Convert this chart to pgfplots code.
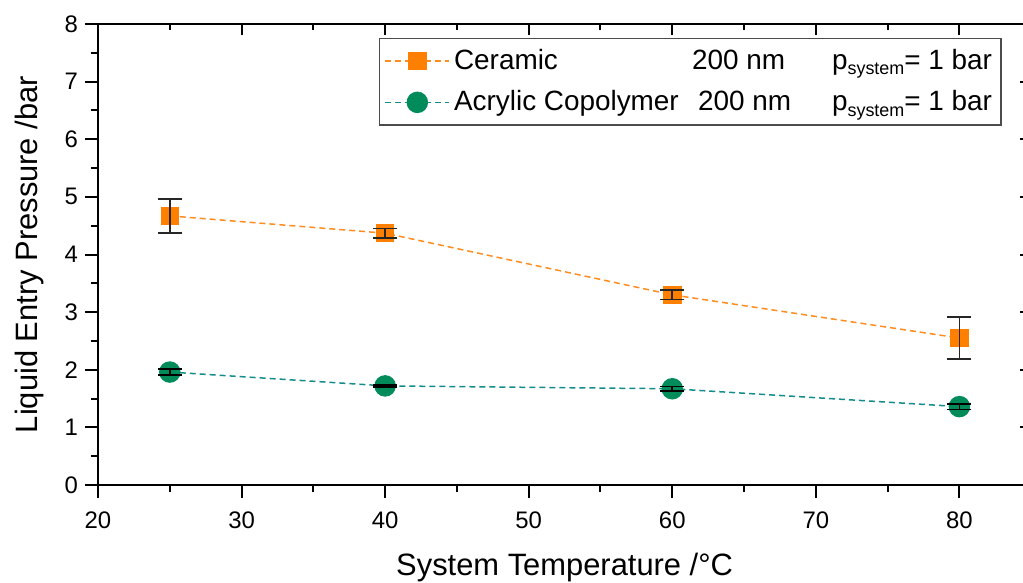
\documentclass[border=0pt]{standalone}
\usepackage{pgfplots}
\pgfplotsset{compat=1.18}
\usepackage{fontspec}
\setmainfont{Liberation Sans}
\definecolor{ceram}{RGB}{255,127,0}
\definecolor{acryl}{RGB}{0,140,90}
\definecolor{acrylline}{RGB}{20,140,140}
\definecolor{ceramline}{RGB}{255,140,30}

\pgfplotstableread{
x y e
25 4.67 0.29
40 4.37 0.08
60 3.30 0.08
80 2.55 0.37
}\ceramic
\pgfplotstableread{
x y e
25 1.96 0.05
40 1.72 0.02
60 1.67 0.04
80 1.36 0.05
}\acrylic

\newcommand{\psys}{p\raisebox{-0.35ex}{\fontsize{9}{10}\selectfont system}= 1 bar}

\begin{document}
\begin{tikzpicture}
\pgfplotsset{
  common/.style={
    scale only axis, width=466.6bp, height=230.5bp,
    xmin=20, xmax=85, ymin=0, ymax=8,
    xtick={20,30,...,80}, ytick={0,...,8},
    minor x tick num=1, minor y tick num=1,
    axis line style={line width=1bp},
    every tick/.style={line width=1bp, black},
  }
}
\begin{axis}[
  common,
  clip mode=individual,
  axis x line*=bottom, axis y line*=left,
  tick align=outside,
  major tick length=6.5bp, minor tick length=3.5bp,
  tick label style={font=\fontsize{12}{14}\selectfont},
  xticklabel style={yshift=-3.5bp},
  /pgf/number format/assume math mode=true,
  xlabel={System Temperature /°C},
  ylabel={Liquid Entry Pressure /bar},
  label style={font=\fontsize{15.5}{18}\selectfont},
  xlabel style={at={(axis description cs:0.5,-0.1779)},anchor=center},
  ylabel style={at={(axis description cs:-0.0729,0.5)},anchor=center},
  legend style={at={(axis description cs:1,1)}, xshift=-14.8bp, yshift=-7bp,
    anchor=north east, draw=black!70, line width=0.6bp,
    font=\fontsize{14}{16}\selectfont, inner xsep=2.5bp, inner ysep=3.5bp,
    row sep=5bp},
  legend cell align=left,
  legend image code/.code={\draw[#1,mark repeat=2,mark phase=2] plot coordinates {(0bp,0bp)(16bp,0bp)(32bp,0bp)};},
]
\coordinate (O) at (rel axis cs:0,0);
\addplot[color=ceramline, line width=0.75bp, dash pattern=on 3bp off 2bp,
  mark=square*, mark size=4.25bp, mark options={solid, fill=ceram, draw=ceram}]
  table[x=x,y=y] {\ceramic};
\addlegendentry{\makebox[119bp][l]{Ceramic}\makebox[70bp][l]{200 nm}\psys}
\addplot[color=acrylline, line width=0.75bp, dash pattern=on 3bp off 2bp,
  mark=*, mark size=5bp, mark options={solid, fill=acryl, draw=acryl}]
  table[x=x,y=y] {\acrylic};
\addlegendentry{\makebox[122bp][l]{Acrylic Copolymer}\makebox[67bp][l]{200 nm}\psys}
\addplot[draw=none, mark=none, forget plot,
  error bars/.cd, y dir=both, y explicit,
  error bar style={draw=black!85, line width=0.9bp},
  error mark options={rotate=90, mark size=6bp, draw=black!85, line width=0.9bp}]
  table[x=x,y=y,y error=e] {\ceramic};
\addplot[draw=none, mark=none, forget plot,
  error bars/.cd, y dir=both, y explicit,
  error bar style={draw=black, line width=0.9bp},
  error mark options={rotate=90, mark size=6bp, draw=black, line width=0.9bp}]
  table[x=x,y=y,y error=e] {\acrylic};
\end{axis}
\begin{axis}[
  common,
  axis x line*=top, axis y line*=right,
  tick align=inside,
  major tick length=5.5bp, minor tick length=3bp,
  xticklabels={}, yticklabels={},
]
\end{axis}
\pgfresetboundingbox
\path[use as bounding box] (O) ++(-49bp,-49bp) rectangle ++(511.5bp,291.5bp);
\end{tikzpicture}
\end{document}
